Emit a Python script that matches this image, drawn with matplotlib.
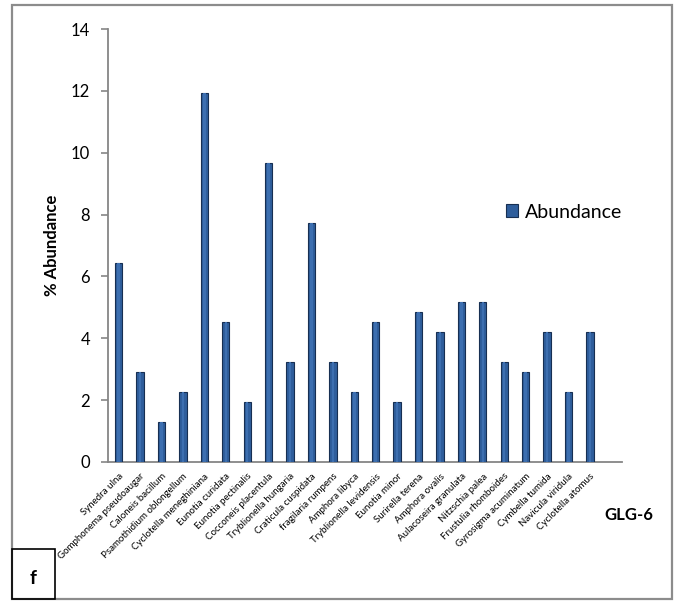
import matplotlib
matplotlib.use('Agg')
import matplotlib.pyplot as plt
import matplotlib.patches as mpatches
import numpy as np

#data: relative abundance of diatom taxa (%)
taxa = ['Synedra ulna', 'Gomphonema pseudoaugar', 'Caloneis bacillum',
        'Psamothidium oblongellum', 'Cyclotella meneghiniana', 'Eunotia curidata',
        'Eunotia pectinalis', 'Cocconeis placentula', 'Tryblionella hungaria',
        'Craticula cuspidata', 'fragilaria rumpens', 'Amphora libyca',
        'Tryblionella levidensis', 'Eunotia minor', 'Surirella terena',
        'Amphora ovalis', 'Aulacoseira granulata', 'Nitzschia palea',
        'Frustulia rhomboides', 'Gyrosigma acuminatum', 'Cymbella tumida',
        'Navicula viridula', 'Cyclotella atomus']
abundance = [6.45, 2.90, 1.29, 2.26, 11.94, 4.52, 1.94, 9.68, 3.23, 7.74, 3.23, 2.26,
             4.52, 1.94, 4.84, 4.19, 5.16, 5.16, 3.23, 2.90, 4.19, 2.26, 4.19]
yticks = [0, 2, 4, 6, 8, 10, 12, 14]
series_name = 'Abundance'
site = 'GLG-6'
panel = 'f'

plt.rcParams['font.family'] = ['Lato', 'DejaVu Sans']

fig = plt.figure(figsize=(6.8, 6.01), dpi=100)

# outer frame of the panel
fig.patches.append(mpatches.Rectangle((12/680, 2/601), 660/680, 594/601,
                                      transform=fig.transFigure, fill=False,
                                      edgecolor='#8c8c8c', linewidth=1.6))

ax = fig.add_axes([108/680, 139/601, 514/680, 433/601])
x = np.arange(len(taxa))
bars = ax.bar(x, abundance, width=0.34, color='#2f5e9c', edgecolor='#172f52',
              linewidth=0.8, label=series_name, zorder=3)
# lighter strip down the middle of each bar
ax.bar(x, abundance, width=0.12, color='#3d6fb0', linewidth=0, zorder=4)

ax.set_xlim(-0.5, len(taxa) + 0.5)
ax.set_ylim(0, 14)
ax.set_yticks(yticks)
ax.set_yticklabels([str(t) for t in yticks], fontsize=12)
ax.set_xticks(x)
ax.set_xticklabels(taxa, rotation=45, ha='right', rotation_mode='anchor', fontsize=7)
ax.tick_params(axis='x', length=0, pad=7)
ax.tick_params(axis='y', length=5, color='#868686', width=1.2, pad=8)

for s in ['top', 'right']:
    ax.spines[s].set_visible(False)
for s in ['left', 'bottom']:
    ax.spines[s].set_color('#868686')
    ax.spines[s].set_linewidth(1.3)

ax.set_ylabel('% Abundance', fontsize=12, fontweight='bold', labelpad=8)

leg = ax.legend(loc='center left', bbox_to_anchor=(0.74, 0.577), frameon=False,
                fontsize=14, handlelength=0.65, handleheight=0.65, handletextpad=0.35)

fig.text(629/680, 1 - 515/601, site, fontsize=12, fontweight='bold',
         ha='center', va='center')

# panel letter box
fig.patches.append(mpatches.Rectangle((12/680, 2/601), 43/680, 50/601,
                                      transform=fig.transFigure, fill=False,
                                      edgecolor='black', linewidth=1.2))
fig.text(33/680, 1 - 578/601, panel, fontsize=14, fontweight='bold',
         ha='center', va='center')

plt.savefig('out.png', dpi=100)
